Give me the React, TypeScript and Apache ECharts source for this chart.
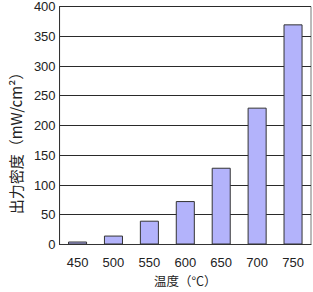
import React, { useEffect, useRef } from "react";
import * as echarts from "echarts";

const categories = ["450", "500", "550", "600", "650", "700", "750"];
const values = [5, 15, 40, 73, 129, 230, 370];
const yTicks = { min: 0, max: 400, interval: 50 };
const xName = "温度（°C）";
const yName = "出力密度（mW/cm²）";

export default function App() {
  const ref = useRef<HTMLDivElement>(null);
  useEffect(() => {
    const chart = echarts.init(ref.current!, null, { renderer: "svg" });
    const font = "'Liberation Sans', 'Noto Sans CJK JP', sans-serif";
    const cjk = "'Noto Sans CJK JP', sans-serif";
    chart.setOption({
      animation: false,
      grid: {
        left: 51,
        right: 2,
        top: 5,
        bottom: 44,
        show: true,
        borderColor: "#777",
        borderWidth: 1,
      },
      xAxis: {
        type: "category",
        data: categories,
        name: xName,
        nameLocation: "middle",
        nameGap: 30,
        nameTextStyle: { color: "#222", fontSize: 12.5, fontFamily: cjk },
        axisLine: { lineStyle: { color: "#333" } },
        axisTick: { show: false },
        axisLabel: { color: "#222", fontSize: 13, fontFamily: font, margin: 11 },
      },
      yAxis: {
        type: "value",
        min: yTicks.min,
        max: yTicks.max,
        interval: yTicks.interval,
        name: yName,
        nameLocation: "middle",
        nameGap: 30,
        nameTextStyle: { color: "#222", fontSize: 15, fontFamily: cjk, padding: [0, 28, 0, 0] },
        axisLine: { show: true, lineStyle: { color: "#333" } },
        axisTick: { show: false },
        axisLabel: { color: "#222", fontSize: 13, fontFamily: font, margin: 4 },
        splitLine: { lineStyle: { color: "#2a2a2a", width: 1 } },
      },
      series: [
        {
          type: "bar",
          data: values,
          barWidth: "53%",
          itemStyle: { color: "#b3b3fb", borderColor: "#333", borderWidth: 1 },
        },
      ],
    });
    return () => chart.dispose();
  }, []);
  return (
    <div
      ref={ref}
      style={{ position: "fixed", left: 0, top: 0, width: 313, height: 292, background: "#fff" }}
    />
  );
}
